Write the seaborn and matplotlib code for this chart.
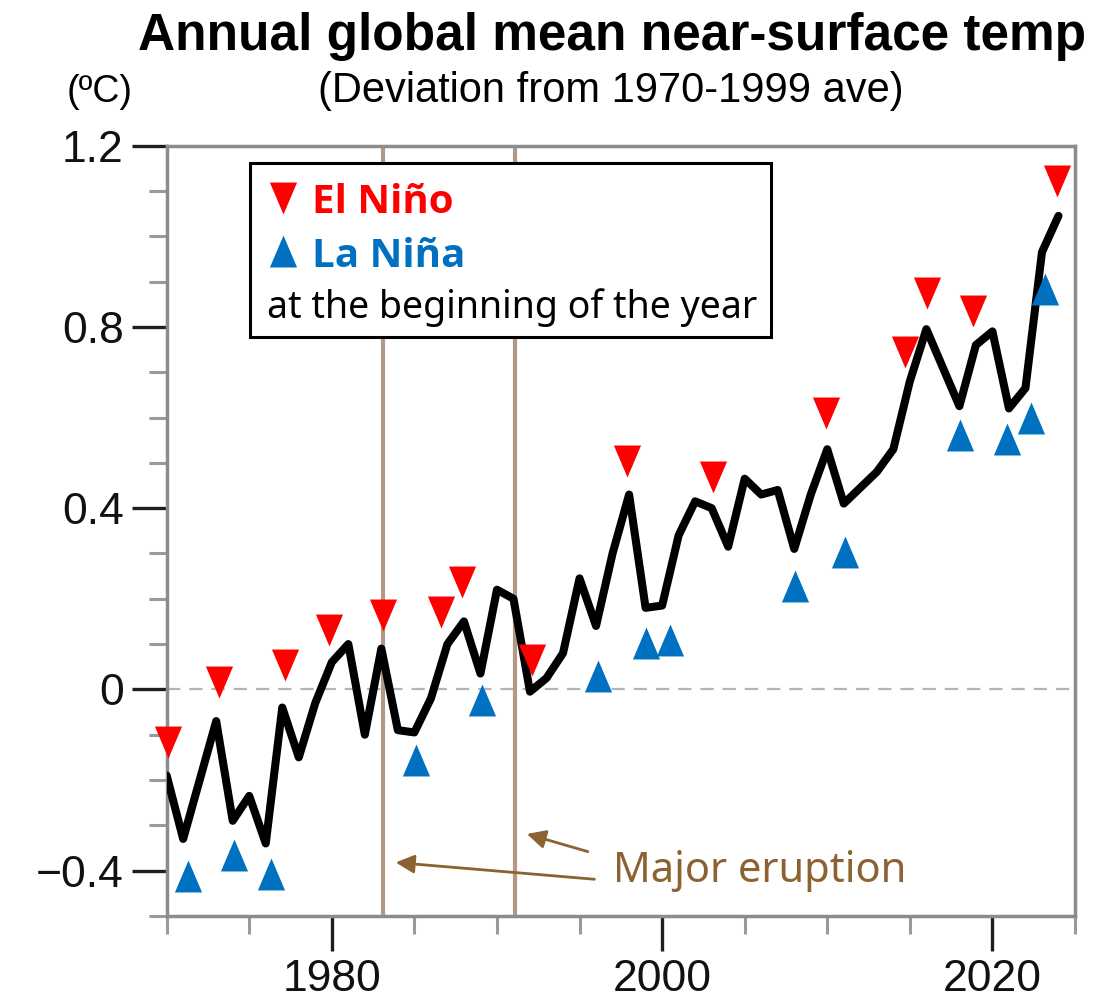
import matplotlib
matplotlib.use("Agg")
import matplotlib.pyplot as plt
from matplotlib import font_manager
from matplotlib.path import Path
from matplotlib.patches import Rectangle
from matplotlib.ticker import FixedLocator, MultipleLocator
import pandas as pd
import seaborn as sns

# Annual global mean near-surface temperature anomaly (deg C, vs 1970-1999)
years = list(range(1970, 2025))
anomaly = [
    -0.19, -0.33, -0.20, -0.07, -0.29, -0.235, -0.34, -0.04, -0.15, -0.03,
    0.06, 0.10, -0.10, 0.09, -0.09, -0.095, -0.02, 0.10, 0.15, 0.035,
    0.22, 0.20, -0.005, 0.025, 0.08, 0.245, 0.14, 0.30, 0.43, 0.18,
    0.185, 0.34, 0.415, 0.40, 0.315, 0.465, 0.43, 0.44, 0.31, 0.43,
    0.53, 0.41, 0.445, 0.48, 0.53, 0.68, 0.795, 0.71, 0.625, 0.76,
    0.79, 0.62, 0.665, 0.965, 1.045,
]

# El Nino / La Nina markers at the beginning of the year
nino_year = [1970.1, 1973.2, 1977.15, 1979.8, 1983.1, 1986.6, 1987.9, 1992.1,
             1997.85, 2003.1, 2009.9, 2014.7, 2016.05, 2018.8, 2023.9]
nino_value = [-0.116, 0.016, 0.054, 0.131, 0.165, 0.170, 0.238, 0.064,
              0.504, 0.469, 0.610, 0.744, 0.874, 0.835, 1.122]
nina_year = [1971.3, 1974.05, 1976.3, 1985.1, 1989.1, 1996.1, 1999.0, 2000.5,
             2008.05, 2011.1, 2018.05, 2020.9, 2022.35, 2023.2]
nina_value = [-0.411, -0.366, -0.407, -0.156, -0.024, 0.030, 0.102, 0.110,
              0.228, 0.304, 0.562, 0.553, 0.599, 0.883]

# Major volcanic eruptions (El Chichon, Pinatubo)
eruption_year = [1983.1, 1991.1]

xtick_values = [1980, 2000, 2020]
xtick_labels = ["1980", "2000", "2020"]
ytick_values = [-0.4, 0.0, 0.4, 0.8, 1.2]
ytick_labels = ["\u22120.4", "0", "0.4", "0.8", "1.2"]

sns.set_style("white")
plt.rcParams["font.family"] = ["Liberation Sans", "DejaVu Sans"]
plt.rcParams["text.color"] = "black"


def first_with_bold(candidates):
    """Pick the first installed family that ships a real bold face."""
    for name in candidates:
        for entry in font_manager.fontManager.ttflist:
            w = entry.weight
            if entry.name == name and (w in ("bold", 700) or
                                       (isinstance(w, int) and w >= 600)):
                return name
    return "DejaVu Sans"


SANS = ["Noto Sans", "DejaVu Sans"]
SANS_BOLD = [first_with_bold(["Noto Sans", "Open Sans", "Lato", "Roboto"]),
             "DejaVu Sans"]

RED = "#ff0000"
BLUE = "#0070c0"
BROWN = "#8c6232"
ERUPT = "#b39886"
SPINE = "#8c8c8c"

fig = plt.figure(figsize=(11.11, 10.05), dpi=100)
ax = fig.add_axes([0.150, 0.0886, 0.8176, 0.7665])

ax.axhline(0, color="#b4b4b4", lw=1.6, ls=(0, (6, 4)), zorder=1)
for yr in eruption_year:
    ax.axvline(yr, color=ERUPT, lw=3, zorder=1)

df = pd.DataFrame({"year": years, "anomaly": anomaly})
sns.lineplot(data=df, x="year", y="anomaly", color="black", lw=5.8,
             ax=ax, zorder=3)

codes = [Path.MOVETO, Path.LINETO, Path.LINETO, Path.CLOSEPOLY]
down_tri = Path([(-0.85, 1), (0.85, 1), (0, -1), (-0.85, 1)], codes)
up_tri = Path([(-0.85, -1), (0.85, -1), (0, 1), (-0.85, -1)], codes)

ax.plot(nino_year, nino_value, ls="none", marker=down_tri, ms=23,
        color=RED, mec="none", zorder=4, clip_on=False)
ax.plot(nina_year, nina_value, ls="none", marker=up_tri, ms=23,
        color=BLUE, mec="none", zorder=4, clip_on=False)

# Eruption annotation
ax.annotate("", xy=(1983.87, -0.382), xytext=(1995.9, -0.419),
            arrowprops=dict(arrowstyle="-|>", color=BROWN, lw=2,
                            mutation_scale=28, shrinkA=0, shrinkB=0))
ax.annotate("", xy=(1991.81, -0.319), xytext=(1995.5, -0.358),
            arrowprops=dict(arrowstyle="-|>", color=BROWN, lw=2,
                            mutation_scale=28, shrinkA=0, shrinkB=0))
ax.text(1997.02, -0.4245, "Major eruption", color=BROWN, fontsize=30,
        family=SANS, ha="left", va="baseline")

# Key box
ax.add_patch(Rectangle((0.0917, 0.7517), 0.5736, 0.2258, transform=ax.transAxes,
                       facecolor="white", edgecolor="black", lw=2.2, zorder=5))
ax.plot([0.128], [0.9315], transform=ax.transAxes, ls="none", marker=down_tri,
        ms=23, color=RED, mec="none", zorder=6)
ax.plot([0.1285], [0.8633], transform=ax.transAxes, ls="none", marker=up_tri,
        ms=23, color=BLUE, mec="none", zorder=6)
ax.text(0.160, 0.913, "El Niño", transform=ax.transAxes, color=RED,
        fontsize=29, fontweight="bold", family=SANS_BOLD,
        va="baseline", ha="left", zorder=6)
ax.text(0.160, 0.843, "La Niña", transform=ax.transAxes, color=BLUE,
        fontsize=29, fontweight="bold", family=SANS_BOLD,
        va="baseline", ha="left", zorder=6)
ax.text(0.110, 0.7759, "at the beginning of the year", transform=ax.transAxes,
        color="black", fontsize=27, family=SANS,
        va="baseline", ha="left", zorder=6)

# Axes and ticks
ax.set_xlim(1970, 2025)
ax.set_ylim(-0.5, 1.2)
ax.set_xlabel("")
ax.set_ylabel("")
ax.set_xticks(xtick_values)
ax.set_xticklabels(xtick_labels)
ax.xaxis.set_minor_locator(FixedLocator(list(range(1970, 2026, 5))))
ax.set_yticks(ytick_values)
ax.set_yticklabels(ytick_labels)
ax.yaxis.set_minor_locator(MultipleLocator(0.1))
ax.tick_params(axis="both", which="both", direction="out", bottom=True,
               left=True, top=False, right=False)
ax.tick_params(which="major", length=25, width=2.4, color="#1e1e1e",
               labelsize=32, labelcolor="#111111", pad=6)
ax.tick_params(which="minor", length=13, width=2.2, color="#9a9a9a")
for side in ["left", "right", "top", "bottom"]:
    ax.spines[side].set_visible(True)
    ax.spines[side].set_color(SPINE)
    ax.spines[side].set_linewidth(2.5)

fig.text(0.551, 0.950, "Annual global mean near-surface temp", ha="center",
         va="baseline", fontsize=37, fontweight="bold", color="black")
fig.text(0.550, 0.899, "(Deviation from 1970-1999 ave)", ha="center",
         va="baseline", fontsize=30, color="black")
fig.text(0.090, 0.899, "(ºC)", ha="center", va="baseline", fontsize=27,
         color="black")

fig.savefig("out.png", dpi=100, facecolor="white")
